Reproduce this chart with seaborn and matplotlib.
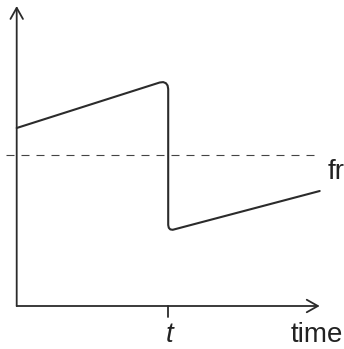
import numpy as np
import pandas as pd
import seaborn as sns
import matplotlib.pyplot as plt

# frequency trace (arbitrary units, origin at the axes corner)
time_vals = [0, 143, 146.5, 149.2, 150.9, 151.5, 151.5, 152.1, 153.6, 156.0, 303]
freq_vals = [178, 223.5, 223.9, 222.8, 220.5, 217, 81, 78.2, 76.6, 76.2, 115]

# reference level (dashed)
ref_time = [-11, 303]
ref_freq = [151, 151]

t_mark = 151.5
axis_end = [303, 300]
x_label = "time"
y_label = "fr"
mark_label = "t"

sns.set_style("white")
plt.rcParams['font.family'] = ['Liberation Sans', 'DejaVu Sans']

fig = plt.figure(figsize=(3.44, 3.49), dpi=100)
ax = fig.add_axes([0, 0, 1, 1])

df = pd.DataFrame({"time": time_vals, "freq": freq_vals})
sns.lineplot(data=df, x="time", y="freq", sort=False, estimator=None,
             color="#2b2b2b", lw=1.5, ax=ax)
ax.lines[-1].set_solid_joinstyle("round")
ax.lines[-1].set_solid_capstyle("round")

sns.lineplot(x=ref_time, y=ref_freq, sort=False, estimator=None,
             color="#444444", lw=0.8, ax=ax)
ax.lines[-1].set_linestyle((0, (7.2, 6.3)))

# axes with open arrow heads
arrow = dict(arrowstyle="->,head_length=0.8,head_width=0.45", color="#2b2b2b",
             lw=1.3, shrinkA=0, shrinkB=0, mutation_scale=10)
ax.annotate("", xy=(axis_end[0], 0), xytext=(0, 0), arrowprops=arrow)
ax.annotate("", xy=(0, axis_end[1]), xytext=(0, 0), arrowprops=arrow)
ax.plot([t_mark, t_mark], [0, -11], color="#2b2b2b", lw=1.3)

ax.text(t_mark + 1, -42.5, mark_label, fontsize=20, style="italic", ha="center",
        va="bottom", color="#222222")
ax.text(274, -35.7, x_label, fontsize=20, ha="left", va="baseline", color="#222222")
ax.text(311.3, 127, y_label, fontsize=20, ha="left", va="baseline", color="#222222")

ax.set_xlim(-16.7, 327.3)
ax.set_ylim(-43, 306)
ax.set_axis_off()
ax.set_xlabel("")
ax.set_ylabel("")

fig.savefig("out.png", dpi=100)
